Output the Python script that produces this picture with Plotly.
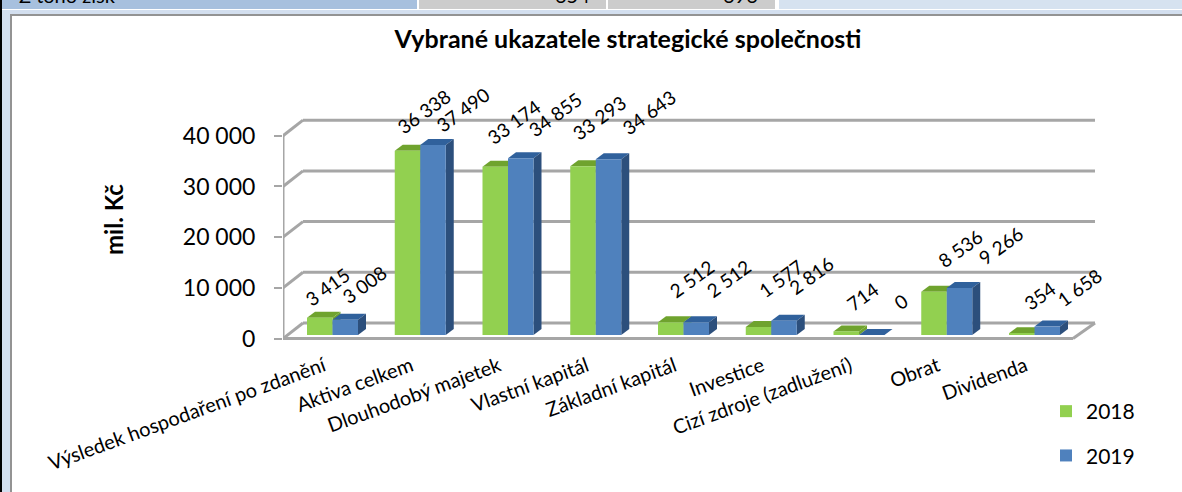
import plotly.graph_objects as go

# ---------- data ----------
categories = ["Výsledek hospodaření po zdanění", "Aktiva celkem", "Dlouhodobý majetek",
              "Vlastní kapitál", "Základní kapitál", "Investice",
              "Cizí zdroje (zadlužení)", "Obrat", "Dividenda"]
values_2018 = [3415, 36338, 33174, 33293, 2512, 1577, 714, 8536, 354]
values_2019 = [3008, 37490, 34855, 34643, 2512, 2816, 0, 9266, 1658]
y_ticks = [0, 10000, 20000, 30000, 40000]
series_names = ["2018", "2019"]

# ---------- label placement (pixels relative to the bar top, not data) ----------
shift_2018 = [(-4, 31), (4, 39), (7, 45), (4, 49), (9, 44), (10, 49), (4, 35), (14, 43), (6, 38)]
shift_2019 = [(7, 35), (18, 35), (22, 44), (28, 47), (20, 44), (15, 45), (17, 34), (29, 43), (20, 39)]

# ---------- styles ----------
W, H = 1182, 492
FONT = "Lato, Carlito, Calibri, sans-serif"
GREEN, GREEN_TOP, GREEN_SIDE = "#92D050", "#6FA32E", "#6FA32E"
BLUE, BLUE_TOP, BLUE_SIDE = "#4F81BD", "#30619C", "#2C4F7C"
GRID = "#A6A6A6"
PLOT_LEFT = 283
CAT0_PX, CAT_STEP = 332.5, 87.75
PX_PER_UNIT = 5.07 / 1000
Y0_PX = 335

def xu(px):  # pixel -> x data
    return (px - CAT0_PX) / CAT_STEP
def xp(px):  # pixel -> paper
    return (px - PLOT_LEFT) / (W - PLOT_LEFT)
def yp(py):
    return 1 - py / H

BAR_W = 25.5 / CAT_STEP
DX = 8 / CAT_STEP
DY = 6 / PX_PER_UNIT
FRONT_Y = -700          # floor front edge
BACK_Y = 2370           # back wall offset
FRONT_X, BACK_X = xu(283), xu(303)
FRONT_R, BACK_R = xu(1073), xu(1095)

shapes = []
def rect(x0, y0, x1, y1, color):
    shapes.append(dict(type="rect", xref="paper", yref="paper", x0=xp(x0), x1=xp(x1),
                       y0=yp(y0), y1=yp(y1), fillcolor=color, line_width=0, layer="below"))
# page surroundings
rect(0, 0, 2, H, "#000000")
rect(2, 10, 10, H, "#D3DFEF")
rect(10, 10, W, 14, "#D3DFEF")
rect(10, 14, W, 16, "#939393")
rect(10, 14, 12, H, "#939393")
rect(2, 0, 417, 9, "#A7C0DE")
rect(419, 0, 606, 9, "#CCCCCC")
rect(608, 0, 775, 9, "#CCCCCC")
rect(779, 0, W, 9, "#D6E2F0")

def seg(x0, y0, x1, y1):
    shapes.append(dict(type="line", xref="x", yref="y", x0=x0, y0=y0, x1=x1, y1=y1,
                       line=dict(color=GRID, width=3), layer="below"))
for t in y_ticks:
    seg(BACK_X, t + BACK_Y, BACK_R, t + BACK_Y)
    seg(FRONT_X, t + FRONT_Y, BACK_X, t + BACK_Y)
seg(FRONT_X, y_ticks[0] + FRONT_Y, FRONT_X, y_ticks[-1] + FRONT_Y)
seg(FRONT_X, FRONT_Y, FRONT_R, FRONT_Y)
seg(FRONT_R, FRONT_Y, BACK_R, BACK_Y)

def poly(pts, color):
    path = "M " + " L ".join(f"{x},{y}" for x, y in pts) + " Z"
    shapes.append(dict(type="path", xref="x", yref="y", path=path, fillcolor=color,
                       line_width=0, layer="below"))

def extrude(i, v, left, top_c, side_c):
    right = left + BAR_W
    poly([(left, v), (right, v), (right + DX, v + DY), (left + DX, v + DY)], top_c)
    poly([(right, 0), (right + DX, DY), (right + DX, v + DY), (right, v)], side_c)

for i, (a, b) in enumerate(zip(values_2018, values_2019)):
    extrude(i, a, i - BAR_W, GREEN_TOP, GREEN_SIDE)
    extrude(i, b, i, BLUE_TOP, BLUE_SIDE)

fmt = lambda v: f"{v:,}".replace(",", " ")
xs = list(range(len(categories)))

fig = go.Figure()
for name, vals, col, off in [(series_names[0], values_2018, GREEN, -BAR_W),
                             (series_names[1], values_2019, BLUE, 0)]:
    fig.add_trace(go.Bar(x=xs, y=vals, name=name, width=BAR_W, offset=off,
                         marker=dict(color=col, line_width=0), legendgroup=name))

ann = []
for i, (a, b) in enumerate(zip(values_2018, values_2019)):
    for v, (sx, sy), off in [(a, shift_2018[i], -BAR_W / 2), (b, shift_2019[i], BAR_W / 2)]:
        ann.append(dict(x=i + off, y=v, xref="x", yref="y", text=fmt(v), showarrow=False,
                        textangle=-36, xshift=sx + 12, yshift=sy,
                        font=dict(family=FONT, size=19, color="#000000")))
# y axis title
ann.append(dict(x=xp(113), y=yp(220), xref="paper", yref="paper", text="<b>mil. Kč</b>",
                showarrow=False, textangle=-90, xanchor="center", yanchor="middle",
                font=dict(family=FONT, size=24, color="#000000")))
# cropped table row above the chart
for text, px, anchor in [("Z toho zisk", 17, "left"), ("654", 592, "right"), ("696", 760, "right")]:
    ann.append(dict(x=xp(px), y=yp(9), xref="paper", yref="paper", text=text, showarrow=False,
                    xanchor=anchor, yanchor="bottom", font=dict(family=FONT, size=20, color="#000000")))

fig.update_layout(
    width=W, height=H, margin=dict(l=PLOT_LEFT, r=0, t=0, b=0, autoexpand=False),
    paper_bgcolor="white", plot_bgcolor="rgba(0,0,0,0)", barmode="overlay",
    title=dict(text="<b>Vybrané ukazatele strategické společnosti</b>",
               x=xp(628), xref="paper", xanchor="center", y=1 - 39 / H, yref="container",
               yanchor="middle", font=dict(family=FONT, size=25, color="#000000")),
    xaxis=dict(range=[xu(PLOT_LEFT), xu(W)], showgrid=False, zeroline=False, showline=False,
               tickmode="array", tickvals=xs, ticktext=categories, tickangle=-20, ticks="",
               anchor="free", position=1 - 350 / H, ticklabelshift=-9, automargin=False,
               tickfont=dict(family=FONT, size=20, color="#000000")),
    yaxis=dict(range=[-(H - Y0_PX) / PX_PER_UNIT, Y0_PX / PX_PER_UNIT], showgrid=False,
               zeroline=False, showline=False, tickmode="array",
               tickvals=[t + FRONT_Y for t in y_ticks], ticktext=[fmt(t) for t in y_ticks],
               ticks="outside", ticklen=8, tickwidth=2, tickcolor=GRID, ticklabelstandoff=14,
               automargin=False, tickfont=dict(family=FONT, size=23, color="#000000")),
    legend=dict(x=xp(1046), y=yp(391), xanchor="left", yanchor="top", traceorder="grouped",
                tracegroupgap=14, bgcolor="rgba(0,0,0,0)",
                font=dict(family=FONT, size=21, color="#000000")),
    shapes=shapes, annotations=ann, showlegend=True,
)
fig.write_html("out.html", config={"displayModeBar": False},
               post_script="document.body.style.margin='0';document.body.style.overflow='hidden';")
